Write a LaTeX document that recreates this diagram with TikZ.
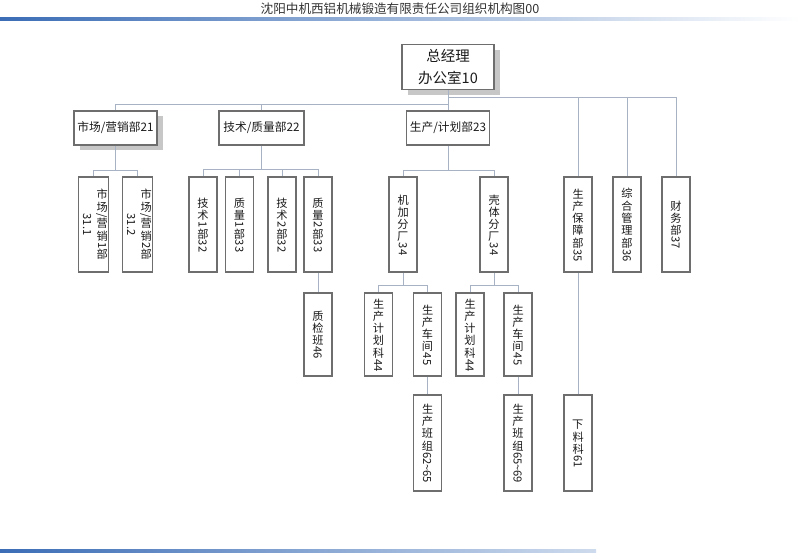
\documentclass[tikz,border=0pt]{standalone}
\usepackage{fontspec}
\setmainfont{Noto Sans CJK SC}
\usetikzlibrary{shadows}
\definecolor{boxgray}{HTML}{6E6E6E}
\definecolor{linkgray}{HTML}{A8B2C5}
\definecolor{barblue}{HTML}{3B6DB6}
\definecolor{inkgray}{HTML}{1A1A1A}
\newlength\vtstep
\newcommand\vt[1]{\vtloop#1\relax}
\def\vtloop#1{\ifx\relax#1\else\vtchar{#1}\expandafter\vtloop\fi}
\def\vtchar#1{\ifcat\relax\noexpand#1#1\else\ifnum`#1>255 \setlength\vtstep{1.1em}\makebox[\vtstep][c]{\rotatebox[origin=c]{90}{#1}}\else#1\fi\fi}
\newcommand\vlabel[1]{\rotatebox{-90}{\vt{#1}}}
\newcommand\vlabelii[2]{\rotatebox{-90}{\begin{tabular}{@{}c@{}}\vt{#1}\\\vt{#2}\end{tabular}}}
\begin{document}
\begin{tikzpicture}[x=1pt,y=-1pt,
    unit/.style={draw=boxgray,line width=1.8pt,fill=white,inner sep=0pt,text=inkgray,font=\fontsize{11.7}{15}\selectfont},
    hunit/.style={unit,minimum width=#1,minimum height=34pt},
    vunit/.style={unit,minimum width=28pt,minimum height=#1,font=\fontsize{11.2}{15}\selectfont},
    boxshadow/.style={drop shadow={shadow xshift=6pt,shadow yshift=-5pt,fill=black!22,opacity=1}},
    link/.style={draw=linkgray,line width=1pt}]
  \useasboundingbox (0,0) rectangle (800,552);
  \node[font=\fontsize{12.6}{14}\selectfont,text=black!80] (title) at (400,9) {沈阳中机西铝机械锻造有限责任公司组织机构图00};
  \shade[left color=barblue,right color=white] (0,17) rectangle (800,20);
  \shade[left color=barblue,right color=barblue!25] (0,549) rectangle (596,552);

  \node[hunit=92pt,minimum height=45pt,boxshadow,font=\fontsize{14.5}{22}\selectfont,align=center] (gm) at (448,67) {总经理\\办公室10};
  \node[hunit=83pt,boxshadow] (d21) at (115.5,128) {市场/营销部21};
  \node[hunit=85pt] (d22) at (261.5,128) {技术/质量部22};
  \node[hunit=83pt] (d23) at (448,128) {生产/计划部23};

  \node[vunit=95pt] (m1) at (93.5,224.5) {\vlabelii{市场/营销1部}{31.1}};
  \node[vunit=95pt] (m2) at (137.5,224.5) {\vlabelii{市场/营销2部}{31.2}};
  \node[vunit=95pt] (t1) at (203,224.5) {\vlabel{技术1部32}};
  \node[vunit=95pt] (q1) at (239.5,224.5) {\vlabel{质量1部33}};
  \node[vunit=95pt] (t2) at (282,224.5) {\vlabel{技术2部32}};
  \node[vunit=95pt] (q2) at (318,224.5) {\vlabel{质量2部33}};
  \node[vunit=95pt] (jj) at (403,224.5) {\vlabel{机加分厂34}};
  \node[vunit=95pt] (kt) at (494,224.5) {\vlabel{壳体分厂34}};
  \node[vunit=95pt] (bz) at (578,224.5) {\vlabel{生产保障部35}};
  \node[vunit=95pt] (zh) at (627,224.5) {\vlabel{综合管理部36}};
  \node[vunit=95pt] (cw) at (676,224.5) {\vlabel{财务部37}};

  \node[vunit=83pt] (qj) at (318,334.5) {\vlabel{质检班46}};
  \node[vunit=83pt] (jp) at (378.5,334.5) {\vlabel{生产计划科44}};
  \node[vunit=83pt] (jc) at (427.5,334.5) {\vlabel{生产车间45}};
  \node[vunit=83pt] (kp) at (470,334.5) {\vlabel{生产计划科44}};
  \node[vunit=83pt] (kc) at (518,334.5) {\vlabel{生产车间45}};

  \node[vunit=96pt] (jb) at (427.5,443) {\vlabel{生产班组62\textasciitilde65}};
  \node[vunit=96pt] (kb) at (518,443) {\vlabel{生产班组65\textasciitilde69}};
  \node[vunit=96pt] (xl) at (578,443) {\vlabel{下料科61}};

  \draw[link] (gm.south) -- ++(0,14) -| (d21.north);
  \draw[link] (gm.south) -- ++(0,14) -| (d22.north);
  \draw[link] (gm.south) -- (d23.north);
  \draw[link] (gm.south) -- ++(0,7) -| (bz.north);
  \draw[link] (gm.south) -- ++(0,7) -| (zh.north);
  \draw[link] (gm.south) -- ++(0,7) -| (cw.north);
  \draw[link] (d21.south) -- ++(0,25) -| (m1.north);
  \draw[link] (d21.south) -- ++(0,25) -| (m2.north);
  \draw[link] (d22.south) -- ++(0,24) -| (t1.north);
  \draw[link] (d22.south) -- ++(0,24) -| (q1.north);
  \draw[link] (d22.south) -- ++(0,24) -| (t2.north);
  \draw[link] (d22.south) -- ++(0,24) -| (q2.north);
  \draw[link] (d23.south) -- ++(0,25) -| (jj.north);
  \draw[link] (d23.south) -- ++(0,25) -| (kt.north);
  \draw[link] (q2.south) -- (qj.north);
  \draw[link] (jj.south) -- ++(0,13) -| (jp.north);
  \draw[link] (jj.south) -- ++(0,13) -| (jc.north);
  \draw[link] (kt.south) -- ++(0,13) -| (kp.north);
  \draw[link] (kt.south) -- ++(0,13) -| (kc.north);
  \draw[link] (jc.south) -- (jb.north);
  \draw[link] (kc.south) -- (kb.north);
  \draw[link] (bz.south) -- (xl.north);
\end{tikzpicture}
\end{document}
